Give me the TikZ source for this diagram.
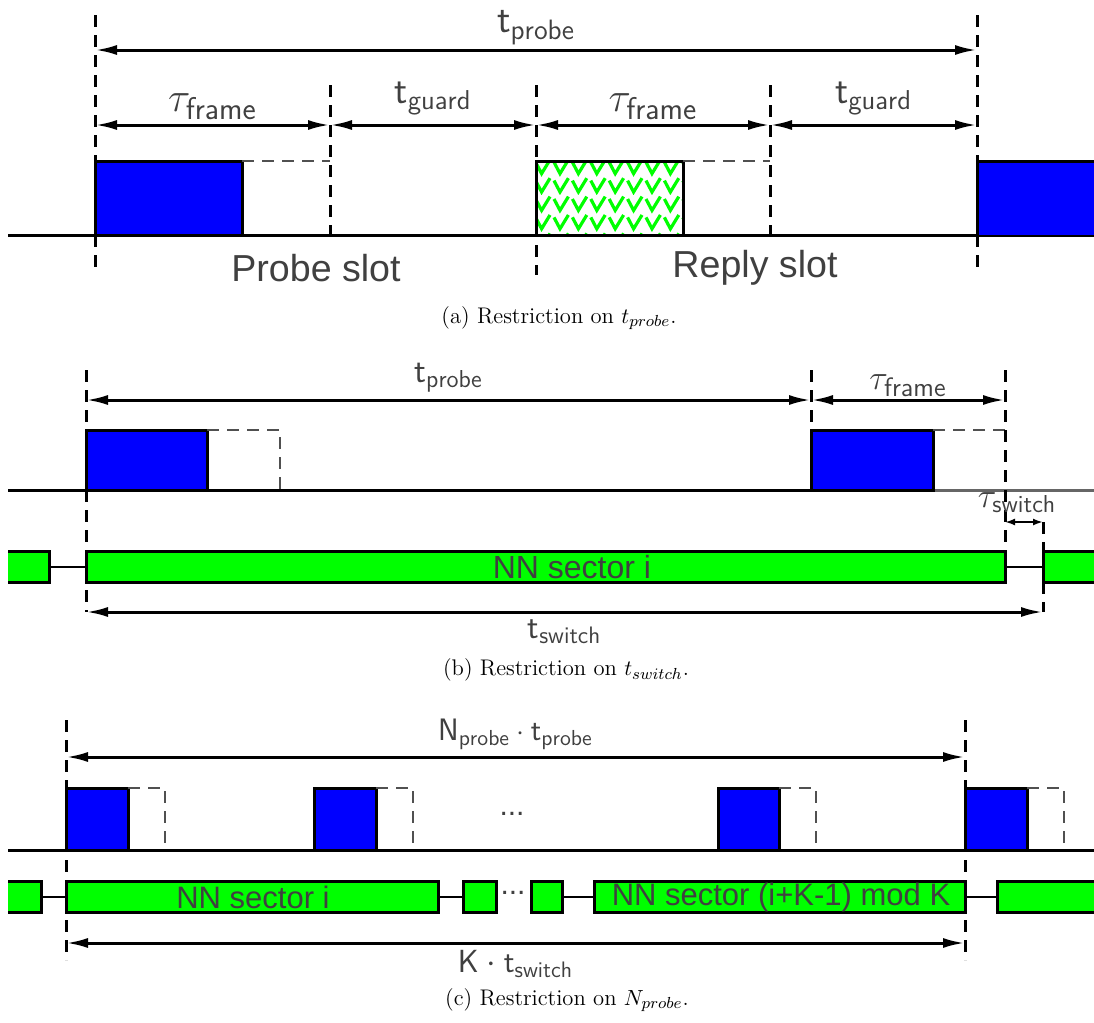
\documentclass[tikz,border=0pt]{standalone}
\usepackage{fontspec}
\usepackage{amsmath}
\usetikzlibrary{arrows.meta,patterns}
\newfontfamily\arialfont{Liberation Sans}
\definecolor{probeBlue}{HTML}{0000FF}
\definecolor{sectorGreen}{HTML}{00FF00}
\definecolor{textGray}{HTML}{404040}
\definecolor{ghostGray}{HTML}{505050}
\definecolor{lineGray}{HTML}{666666}
\pgfdeclarepatternformonly{checks}{\pgfqpoint{0pt}{0pt}}{\pgfqpoint{9pt}{9pt}}{\pgfqpoint{9.2pt}{9.2pt}}{
  \pgfsetlinewidth{1.6pt}
  \pgfpathmoveto{\pgfqpoint{1pt}{7.2pt}}
  \pgfpathlineto{\pgfqpoint{4pt}{1.5pt}}
  \pgfpathlineto{\pgfqpoint{8.2pt}{8.4pt}}
  \pgfusepath{stroke}}

\begin{document}
\begin{tikzpicture}[x=0.5pt,y=-0.5pt,
  pulse/.style={draw=black,line width=1.5pt,fill=probeBlue},
  sector/.style={draw=black,line width=1.5pt,fill=sectorGreen},
  ghost/.style={ghostGray,line width=1.4pt,dash pattern=on 6pt off 4pt},
  cut/.style={black,line width=1.5pt,dash pattern=on 6pt off 4pt},
  dim/.style={line width=1.5pt,{Latex[length=11pt,width=5pt]}-{Latex[length=11pt,width=5pt]}},
  wire/.style={line width=1.5pt},
  link/.style={line width=1.2pt},
  lbl/.style={text=textGray,inner sep=1pt},
  slot/.style={text=textGray,font=\arialfont\fontsize{18.8}{21}\selectfont},
  bartxt/.style={text=textGray,font=\arialfont\fontsize{15.5}{18}\selectfont},
  subcap/.style={font=\fontsize{11.3}{13}\selectfont}]
\useasboundingbox (0,0) rectangle (1094,1023);

% (a)
\draw[wire] (8,235) -- (1094,235);
\draw[pulse] (95,161) rectangle (242,235);
\draw[ghost] (242,161) -- (330,161);
\draw[line width=1.5pt,pattern=checks,pattern color=sectorGreen] (536,161) rectangle (683,235);
\draw[ghost] (683,161) -- (770,161);
\fill[probeBlue] (977,161) rectangle (1094,235);
\draw[line width=1.5pt] (1094,161) -- (977,161) -- (977,235);
\draw[cut] (95,15) -- (95,270);
\draw[cut] (330,85) -- (330,235);
\draw[cut] (536,85) -- (536,275);
\draw[cut] (770,85) -- (770,235);
\draw[cut] (977,15) -- (977,270);
\coordinate (pa1) at (95,50);
\coordinate (pa2) at (977,50);
\coordinate (fa1) at (95,125);
\coordinate (fa2) at (330,125);
\coordinate (fa3) at (536,125);
\coordinate (fa4) at (770,125);
\coordinate (fa5) at (977,125);
\draw[dim] (pa1) -- node[lbl,font=\fontsize{20}{22}\selectfont,above=1pt] (tpa) {$\mathsf{t}_{\mathsf{probe}}$} (pa2);
\draw[dim] (fa1) -- node[lbl,font=\fontsize{22.5}{24}\selectfont,above=1pt] (tfa1) {$\tau_{\mathsf{frame}}$} (fa2);
\draw[dim] (fa2) -- node[lbl,font=\fontsize{19.5}{22}\selectfont,above=3pt] (tga1) {$\mathsf{t}_{\mathsf{guard}}$} (fa3);
\draw[dim] (fa3) -- node[lbl,font=\fontsize{22.5}{24}\selectfont,above=1pt] (tfa2) {$\tau_{\mathsf{frame}}$} (fa4);
\draw[dim] (fa4) -- node[lbl,font=\fontsize{19.5}{22}\selectfont,above=3pt] (tga2) {$\mathsf{t}_{\mathsf{guard}}$} (fa5);
\node[slot] (ps) at (316,268) {Probe slot};
\node[slot] (rs) at (755,268) {Reply slot};
\node[subcap] (capa) at (559,318) {(a) Restriction on $t_{probe}$.};

% (b)
\draw[wire] (8,490) -- (933,490);
\draw[wire,lineGray] (933,490) -- (1094,490);
\draw[pulse] (86,430) rectangle (207,490);
\draw[ghost] (207,430) -- (280,430) -- (280,490);
\draw[pulse] (811,430) rectangle (933,490);
\draw[ghost] (933,430) -- (1005,430);
\draw[cut] (86,370) -- (86,612);
\draw[cut] (811,370) -- (811,490);
\draw[cut] (1005,370) -- (1005,551);
\draw[cut] (1043,522) -- (1043,612);
\fill[sectorGreen] (8,551) rectangle (49,582);
\draw[line width=1.5pt] (8,551) -- (49,551) -- (49,582) -- (8,582);
\draw[sector] (86,551) rectangle (1005,582);
\node[text=textGray,font=\arialfont\fontsize{16}{18}\selectfont] (sb) at (572,567) {NN sector i};
\fill[sectorGreen] (1043,551) rectangle (1094,582);
\draw[line width=1.5pt] (1094,551) -- (1043,551) -- (1043,582) -- (1094,582);
\draw[link] (49,567) -- (86,567);
\draw[link] (1005,567) -- (1043,567);
\coordinate (pb1) at (86,400);
\coordinate (pb2) at (811,400);
\coordinate (pb3) at (1005,400);
\coordinate (wb1) at (1005,522);
\coordinate (wb2) at (1043,522);
\coordinate (sb1) at (86,612);
\coordinate (sb2) at (1043,612);
\draw[dim] (pb1) -- node[lbl,font=\fontsize{17.5}{20}\selectfont,above=2pt] (tpb) {$\mathsf{t}_{\mathsf{probe}}$} (pb2);
\draw[dim] (pb2) -- node[lbl,font=\fontsize{19}{21}\selectfont,above=0pt] (tfb) {$\tau_{\mathsf{frame}}$} (pb3);
\draw[line width=1.4pt,{Latex[length=5pt,width=3.5pt]}-{Latex[length=5pt,width=3.5pt]}] (wb1) -- (wb2);
\node[lbl,font=\fontsize{17.5}{20}\selectfont] (twb) at (1017,503) {$\tau_{\mathsf{switch}}$};
\draw[dim] (sb1) -- node[lbl,font=\fontsize{17}{19}\selectfont,below=2pt] (tsb) {$\mathsf{t}_{\mathsf{switch}}$} (sb2);
\node[subcap] (capb) at (566,670) {(b) Restriction on $t_{switch}$.};

% (c)
\draw[wire] (8,850) -- (1094,850);
\draw[pulse] (66,788) rectangle (128,850);
\draw[ghost] (128,788) -- (165,788) -- (165,850);
\draw[pulse] (314,788) rectangle (376,850);
\draw[ghost] (376,788) -- (413,788) -- (413,850);
\draw[pulse] (718,788) rectangle (779,850);
\draw[ghost] (779,788) -- (816,788) -- (816,850);
\draw[pulse] (965,788) rectangle (1027,850);
\draw[ghost] (1027,788) -- (1064,788) -- (1064,850);
\node[text=textGray,font=\arialfont\fontsize{15}{17}\selectfont] (dc1) at (512,814) {...};
\draw[cut] (66,720) -- (66,960);
\draw[cut] (965,720) -- (965,960);
\fill[sectorGreen] (8,881) rectangle (41,912);
\draw[line width=1.5pt] (8,881) -- (41,881) -- (41,912) -- (8,912);
\draw[sector] (66,881) rectangle (438,912);
\node[bartxt] (sc1) at (253,897) {NN sector i};
\draw[sector] (463,881) rectangle (496,912);
\node[text=textGray,font=\arialfont\fontsize{15}{17}\selectfont] (dc2) at (513,893) {...};
\draw[sector] (531,881) rectangle (562,912);
\draw[sector] (594,881) rectangle (965,912);
\node[bartxt] (sc2) at (781,897) {NN sector (i+K-1) mod K};
\fill[sectorGreen] (997,881) rectangle (1094,912);
\draw[line width=1.5pt] (1094,881) -- (997,881) -- (997,912) -- (1094,912);
\draw[link] (41,897) -- (66,897);
\draw[link] (438,897) -- (463,897);
\draw[link] (562,897) -- (594,897);
\draw[link] (965,897) -- (997,897);
\coordinate (nc1) at (66,757);
\coordinate (nc2) at (965,757);
\coordinate (kc1) at (66,943);
\coordinate (kc2) at (965,943);
\draw[dim] (nc1) -- node[lbl,font=\fontsize{15.5}{18}\selectfont,above=2pt] (tnc) {$\mathsf{N}_{\mathsf{probe}}\cdot\mathsf{t}_{\mathsf{probe}}$} (nc2);
\draw[dim] (kc1) -- node[lbl,font=\fontsize{16}{18}\selectfont,below=2pt] (tkc) {$\mathsf{K}\cdot\mathsf{t}_{\mathsf{switch}}$} (kc2);
\node[subcap] (capc) at (567,1000) {(c) Restriction on $N_{probe}$.};
\end{tikzpicture}
\end{document}
